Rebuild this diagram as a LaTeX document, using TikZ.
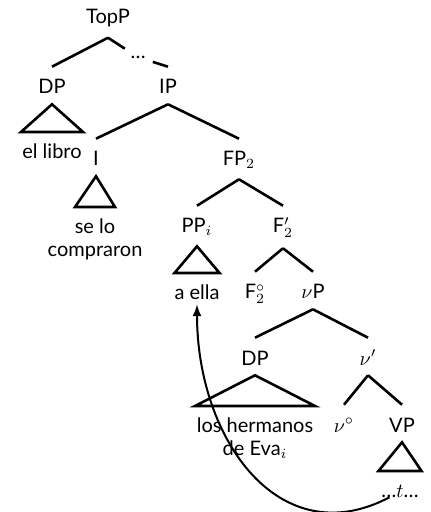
\documentclass[tikz,border=0pt]{standalone}
\usepackage{fontspec}
\setmainfont{Lato}
\usetikzlibrary{arrows,calc}

\tikzset{
  cat/.style={anchor=base, inner xsep=1pt, inner ysep=4.5pt, text height=8.5pt},
  leaf/.style={anchor=north, inner ysep=5pt, align=center},
}

\begin{document}
\begin{tikzpicture}[x=0.5pt,y=-0.5pt,line width=1.3pt,
    font=\fontsize{10pt}{11.5pt}\selectfont]
% Picture frame
  \useasboundingbox (0,0) rectangle (431,512);
% Root and its daughters
  \node[cat] (TopP) at (108,24) {TopP};
  \node[cat] (DP) at (52,94) {DP};
  \node[cat] (IP) at (168,94) {IP};
  \draw (TopP.south) -- (DP.north);
% Elided material on the right branch
  \node[inner sep=3pt, yshift=-2.5pt] (dots) at ($(TopP.south)!.5!(IP.north)$) {\ldots};
  \draw (TopP.south) -- (dots) -- (IP.north);
% Topic DP
  \node[leaf] (libro) at (52,132) {el libro};
  \draw (DP.south) -- ([xshift=-15.5pt]libro.north) -- ([xshift=15.5pt]libro.north) -- cycle;

% IP
  \node[cat] (I) at (96,166) {I};
  \node[cat] (FP) at (239,166) {FP$_2$};
  \draw (IP.south) -- (I.north);
  \draw (IP.south) -- (FP.north);
% Clitics under I
  \node[leaf] (clitics) at (95,207) {se lo\\compraron};
  \draw (I.south) -- ([xshift=-10pt]clitics.north) -- ([xshift=10pt]clitics.north) -- cycle;

% FP2
  \node[cat] (PP) at (197,233) {PP$_i$};
  \node[cat] (Fbar) at (283,233) {F$'_2$};
  \draw (FP.south) -- (PP.north);
  \draw (FP.south) -- (Fbar.north);
% Doubled PP
  \node[leaf] (aella) at (197,273) {a ella};
  \draw (PP.south) -- ([xshift=-11.25pt]aella.north) -- ([xshift=11.25pt]aella.north) -- cycle;

% F'2
  \node[cat] (Fzero) at (255,299) {F$^\circ_2$};
  \node[cat] (vP) at (313,299) {$\nu$P};
  \draw (Fbar.south) -- (Fzero.north);
  \draw (Fbar.south) -- (vP.north);

% vP
  \node[cat] (subj) at (255,365) {DP};
  \node[cat] (vbar) at (368,365) {$\nu'$};
  \draw (vP.south) -- (subj.north);
  \draw (vP.south) -- (vbar.north);
% Subject DP
  \node[leaf] (hermanos) at (255,406) {los hermanos\\de Eva$_i$};
  \draw (subj.south) -- ([xshift=-30pt]hermanos.north) -- ([xshift=30pt]hermanos.north) -- cycle;

% v'
  \node[cat] (v) at (344,432) {$\nu^\circ$};
  \node[cat] (VP) at (402,432) {VP};
  \draw (vbar.south) -- (v.north);
  \draw (vbar.south) -- (VP.north);
% Trace inside VP
  \node[leaf, text height=7.5pt] (trace) at (400,471) {\ldots$t$\ldots};
  \draw (VP.south) -- ([xshift=-10.75pt]trace.north) -- ([xshift=10.75pt]trace.north) -- cycle;

% Movement of the PP
  \draw[-latex, line width=1pt] ([xshift=8pt]trace.base west) .. controls (280,555) and (197,440) .. ([yshift=3pt]aella.south);
\end{tikzpicture}
\end{document}
